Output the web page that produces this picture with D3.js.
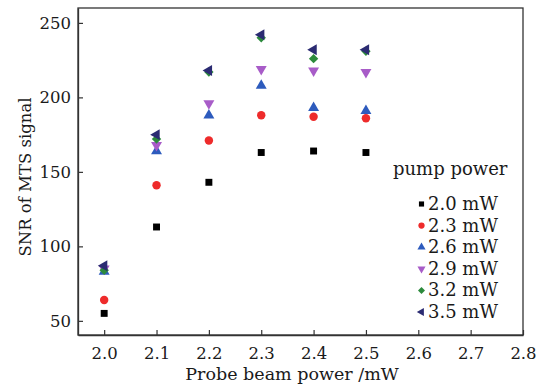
<!DOCTYPE html>
<html>
<head>
<meta charset="utf-8">
<script src="https://cdn.jsdelivr.net/npm/d3@7"></script>
<style>
  body { margin: 0; background: #fff; }
  svg { font-family: "DejaVu Serif", serif; }
</style>
</head>
<body>
<svg id="chart" width="545" height="388"></svg>
<script>
// probe beam power (mW)
const probePower = [2.0, 2.1, 2.2, 2.3, 2.4, 2.5];
// pump power series labels
const pumpLabels = ["2.0 mW", "2.3 mW", "2.6 mW", "2.9 mW", "3.2 mW", "3.5 mW"];
// SNR values per pump power
const snr20 = [55, 113, 143, 163, 164, 163];
const snr23 = [64, 141, 171, 188, 187, 186];
const snr26 = [83, 164, 188, 208, 193, 191];
const snr29 = [85, 168, 196, 219, 218, 217];
const snr32 = [84, 172, 217, 240, 226, 231];
const snr35 = [87, 175, 218, 242, 232, 232];
const xTicks = [2.0, 2.1, 2.2, 2.3, 2.4, 2.5, 2.6, 2.7, 2.8];
const yTicks = [50, 100, 150, 200, 250];

const series = [snr20, snr23, snr26, snr29, snr32, snr35];
const colors = ["#000000", "#ee2b2b", "#2d5bbd", "#a85cc8", "#2c8a3c", "#2b2b72"];
// symbol type, size, rotation
const shapes = [
  { type: d3.symbolSquare, size: 48, rot: 0 },
  { type: d3.symbolCircle, size: 56, rot: 0 },
  { type: d3.symbolTriangle, size: 52, rot: 0 },
  { type: d3.symbolTriangle, size: 52, rot: 180 },
  { type: d3.symbolSquare, size: 44, rot: 45 },
  { type: d3.symbolTriangle, size: 52, rot: -90 }
];

const svg = d3.select("#chart");
const plotL = 78, plotR = 523, plotT = 8, plotB = 335;

const x = d3.scaleLinear().domain([1.95, 2.8]).range([plotL, plotR]);
const y = d3.scaleLinear().domain([40.5, 260]).range([plotB, plotT]);

// frame
svg.append("rect")
  .attr("x", plotL).attr("y", plotT)
  .attr("width", plotR - plotL).attr("height", plotB - plotT)
  .attr("fill", "none").attr("stroke", "#333").attr("stroke-width", 1.3);

// axes with inward ticks
const xAxis = svg.append("g")
  .attr("transform", `translate(0,${plotB})`)
  .call(d3.axisBottom(x).tickValues(xTicks).tickFormat(d3.format(".1f"))
    .tickSizeInner(-5).tickSizeOuter(0).tickPadding(12));
const yAxis = svg.append("g")
  .attr("transform", `translate(${plotL},0)`)
  .call(d3.axisLeft(y).tickValues(yTicks).tickSizeInner(-5).tickSizeOuter(0).tickPadding(7));

[xAxis, yAxis].forEach(g => {
  g.select(".domain").attr("stroke", "#333").attr("stroke-width", 1.3);
  g.selectAll(".tick line").attr("stroke", "#333").attr("stroke-width", 1.2);
  g.selectAll("text").attr("fill", "#1a1a1a").style("font-size", "16.5px")
    .style("font-family", "DejaVu Serif, serif");
});

// axis titles
svg.append("text")
  .attr("x", 292).attr("y", 380)
  .attr("text-anchor", "middle")
  .attr("fill", "#1a1a1a")
  .style("font-size", "17.5px")
  .text("Probe beam power /mW");

svg.append("text")
  .attr("transform", "translate(31,177) rotate(-90)")
  .attr("text-anchor", "middle")
  .attr("fill", "#1a1a1a")
  .style("font-size", "16.5px")
  .text("SNR of MTS signal");

// points
series.forEach((vals, i) => {
  const sym = d3.symbol().type(shapes[i].type).size(shapes[i].size);
  svg.append("g").selectAll("path")
    .data(vals)
    .enter()
    .append("path")
    .attr("d", sym)
    .attr("transform", (d, j) => `translate(${x(probePower[j])},${y(d)}) rotate(${shapes[i].rot})`)
    .attr("fill", colors[i]);
});

// legend
svg.append("text")
  .attr("x", 393).attr("y", 175)
  .attr("fill", "#1a1a1a")
  .style("font-size", "18px")
  .text("pump power");

const legend = svg.append("g");
pumpLabels.forEach((lab, i) => {
  const ly = 210 + i * 21.6;
  const sym = d3.symbol().type(shapes[i].type).size(shapes[i].size * 0.55);
  legend.append("path")
    .attr("d", sym)
    .attr("transform", `translate(421.5,${ly - 6}) rotate(${shapes[i].rot})`)
    .attr("fill", colors[i]);
  legend.append("text")
    .attr("x", 428).attr("y", ly)
    .attr("fill", "#1a1a1a")
    .style("font-size", "18px")
    .text(lab);
});
</script>
</body>
</html>
